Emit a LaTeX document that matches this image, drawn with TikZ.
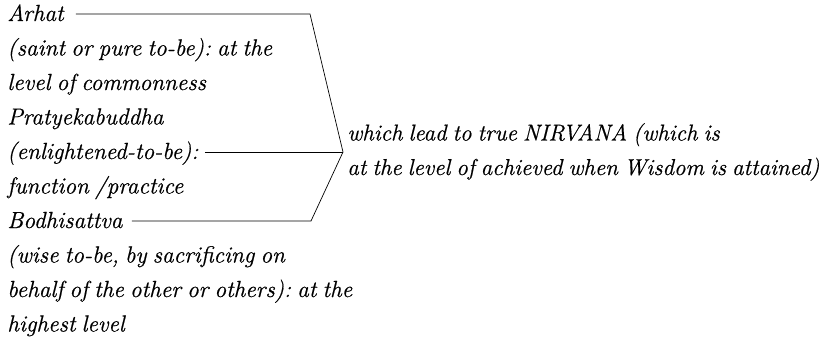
\documentclass[tikz,border=0pt]{standalone}
\usepackage{fontspec}
\setmainfont{Latin Modern Roman}[WordSpace=0.75, ItalicFeatures={FakeBold=0.6}]
\frenchspacing
\usetikzlibrary{positioning,calc}

\begin{document}
\begin{tikzpicture}[x=1pt, y=-1pt, line width=0.7pt,
					every node/.style={inner sep=0pt, font=\fontsize{23.3}{34.5}\selectfont\itshape},
					entry/.style={anchor=base west, text height=17pt, text depth=3pt},
					result/.style={align=left, font=\fontsize{23}{34.5}\selectfont\itshape}]
					
					\useasboundingbox (0,0) rectangle (830,341);
					
					% the three ways, one node per printed line
					\foreach \txt [count=\i from 0] in {Arhat, {(saint or pure to-be): at the}, level of commonness,
						Pratyekabuddha, {(enlightened-to-be):}, function /practice, Bodhisattva,
						{(wise to-be, by sacrificing on}, {behalf of the other or others): at the}, highest level}
						\node[entry] (l\i) at (7,21+34.5*\i) {\txt};
					
					\coordinate (tip) at (343,152);
					\node[result, right=4pt of tip] (nirvana) {which lead to true NIRVANA (which is\\
						at the level of achieved when Wisdom is attained)};
					
					\draw ([xshift=12pt]l0.east) -- ([xshift=-33pt]l0.east -| tip) -- (tip);
					\draw ([xshift=6pt]l4.east) -- (tip);
					\draw ([xshift=9pt]l6.east) -- ([xshift=-32pt]l6.east -| tip) -- (tip);
				\end{tikzpicture}
\end{document}
